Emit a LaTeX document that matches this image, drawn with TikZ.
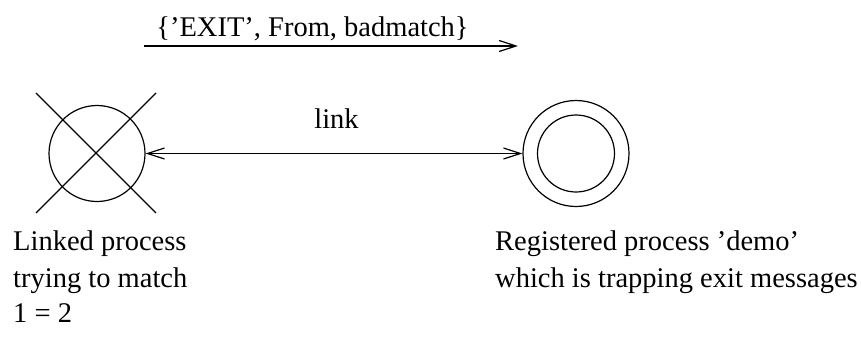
\documentclass[tikz,border=0pt]{standalone}
\usepackage{fontspec}
\setmainfont{Liberation Serif}
\usetikzlibrary{arrows.meta}
\begin{document}
\begin{tikzpicture}[x=1pt,y=-1pt,
  every node/.style={font=\fontsize{28.5}{34}\selectfont, inner sep=0pt},
  ln/.style={line width=1.2pt, black},
  tipv/.style={-{Straight Barb[length=17pt,width=11pt,line width=1.2pt]}},
  tipvv/.style={{Straight Barb[length=17pt,width=11pt,line width=1.2pt]}-{Straight Barb[length=17pt,width=11pt,line width=1.2pt]}},
  label/.style={anchor=base west}]
\useasboundingbox (0,0) rectangle (861,348);
% linked (crossed) process
\node[circle, draw, ln, minimum size=96pt] (lp) at (97,153.5) {};
\coordinate (c1) at (36,93);
\coordinate (c2) at (156,213);
\coordinate (c3) at (36,213);
\coordinate (c4) at (156,93);
\draw[ln] (c1) -- (c2);
\draw[ln] (c3) -- (c4);
% registered process (double circle)
\node[circle, draw, ln, minimum size=106pt] (reg) at (576,153.5) {};
\node[circle, draw, ln, minimum size=77pt] (regin) at (576,153.5) {};
% link
\draw[ln, tipvv] (lp.east) -- (reg.west);
\node[anchor=base] (linklbl) at (336.5,128) {link};
% exit message
\coordinate (m1) at (144,46);
\coordinate (m2) at (518,46);
\draw[ln, tipv] (m1) -- (m2);
\node[anchor=base] (msg) at (312.5,36.5) {\{’EXIT’, From, badmatch\}};
% labels
\node[label] (t1) at (13,250) {Linked process};
\node[label] (t2) at (13,287) {trying to match};
\node[label] (t3) at (13,322) {1 = 2};
\node[label] (t4) at (495,250) {Registered process ’demo’};
\node[label] (t5) at (495,287) {which is trapping exit messages};
\end{tikzpicture}
\end{document}
